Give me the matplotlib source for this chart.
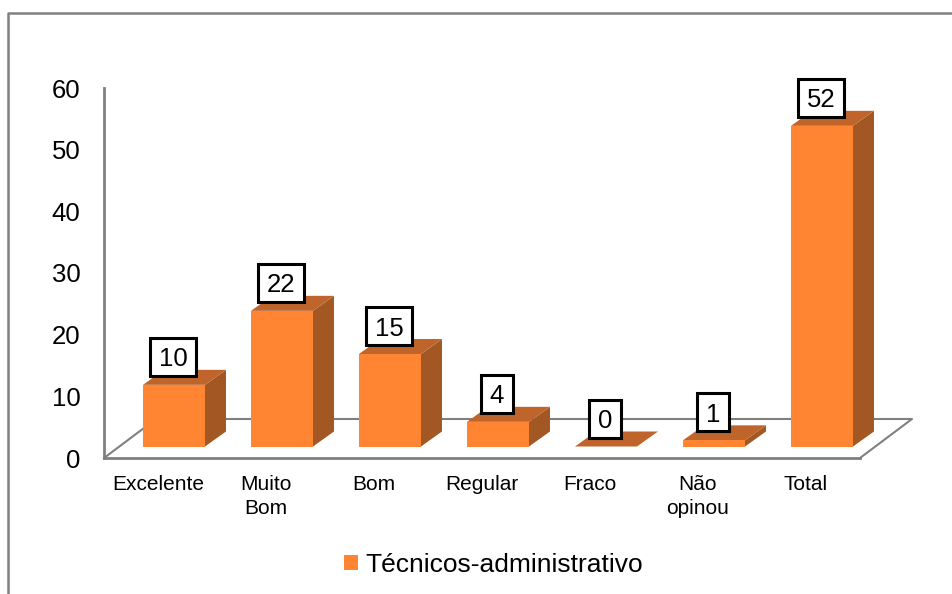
import matplotlib
matplotlib.use("Agg")
import matplotlib.pyplot as plt
from matplotlib.patches import Polygon, Rectangle
from matplotlib.lines import Line2D
from matplotlib.transforms import ScaledTranslation

categories = ["Excelente", "Muito\nBom", "Bom", "Regular", "Fraco", "Não\nopinou", "Total"]
values = [10, 22, 15, 4, 0, 1, 52]
y_ticks = [0, 10, 20, 30, 40, 50, 60]
series_name = "Técnicos-administrativo"

W, H = 953, 594
FRONT = "#FF8533"
TOP = "#BF642A"
SIDE = "#A35823"
GRAY = "#808080"

plt.rcParams["font.family"] = ["Liberation Sans", "DejaVu Sans"]
fig = plt.figure(figsize=(W / 100, H / 100), dpi=100)
fig.patch.set_facecolor("white")

# outer frame: left and top edges only are visible in the crop
fig.add_artist(Line2D([8 / W, 8 / W, 1], [0, 1 - 13 / H, 1 - 13 / H],
                      color=GRAY, lw=1.8, transform=fig.transFigure))

L, R, T, B = 104, 860, 88, 458
ax = fig.add_axes([L / W, 1 - B / H, (R - L) / W, (B - T) / H])
ax.set_facecolor("none")
ax.set_xlim(-0.648, 6.352)
ax.set_ylim(0, 60)
upx = 60 / (B - T)     # data units per pixel, y
xpx = 7 / (R - L)      # data units per pixel, x

half = 31 * xpx
ddx, ddy = 21 * xpx, 15 * upx
base = 11.5 * upx

# floor / back wall
ax.plot([-0.648, -0.648 + 52 * xpx, 6.352 + 52 * xpx, 6.352],
        [0, 39 * upx, 39 * upx, 0], color=GRAY, lw=1.5, clip_on=False, zorder=1)

for i, v in enumerate(values):
    x0, x1 = i - half, i + half
    y0, y1 = base, base + v
    ax.add_patch(Polygon([(x1, y0), (x1 + ddx, y0 + ddy), (x1 + ddx, y1 + ddy), (x1, y1)],
                         fc=SIDE, ec="none", zorder=2, clip_on=False))
    ax.add_patch(Polygon([(x0, y1), (x1, y1), (x1 + ddx, y1 + ddy), (x0 + ddx, y1 + ddy)],
                         fc=TOP, ec="none", zorder=2, clip_on=False))
    ax.add_patch(Rectangle((x0, y0), x1 - x0, y1 - y0, fc=FRONT, ec="none", zorder=3, clip_on=False))
    bw = (18 + 14 * len(str(v))) * xpx
    bh = 38 * upx
    cx, cy = i - 1 * xpx, y1 + 28 * upx
    ax.add_patch(Rectangle((cx - bw / 2, cy - bh / 2), bw, bh, fc="white", ec="black",
                           lw=2.2, zorder=5, clip_on=False))
    ax.text(cx, cy, str(v), ha="center", va="center_baseline", fontsize=18.5, color="black",
            zorder=6, clip_on=False)

for s in ("top", "right"):
    ax.spines[s].set_visible(False)
for s in ("left", "bottom"):
    ax.spines[s].set_color(GRAY)
    ax.spines[s].set_linewidth(2)
    ax.spines[s].set_zorder(1)

ax.set_yticks(y_ticks)
ax.set_yticklabels([str(t) for t in y_ticks], fontsize=18.5)
ax.tick_params(axis="y", length=0, pad=17)
ax.set_xticks(range(len(categories)))
ax.set_xticklabels(categories, fontsize=15, linespacing=1.3, ma="center")
ax.tick_params(axis="x", length=0, pad=12.5)
shift = ScaledTranslation(-16 / 100, 0, fig.dpi_scale_trans)
for lab in ax.get_xticklabels():
    lab.set_transform(lab.get_transform() + shift)

handle = Rectangle((0, 0), 1, 1, fc=FRONT, ec="none")
fig.legend([handle], [series_name], loc="center", bbox_to_anchor=(493.5 / W, 1 - 565 / H),
           frameon=False, fontsize=19, handlelength=0.53, handleheight=0.53,
           handletextpad=0.3, borderpad=0)

fig.savefig("out.png", dpi=100)
